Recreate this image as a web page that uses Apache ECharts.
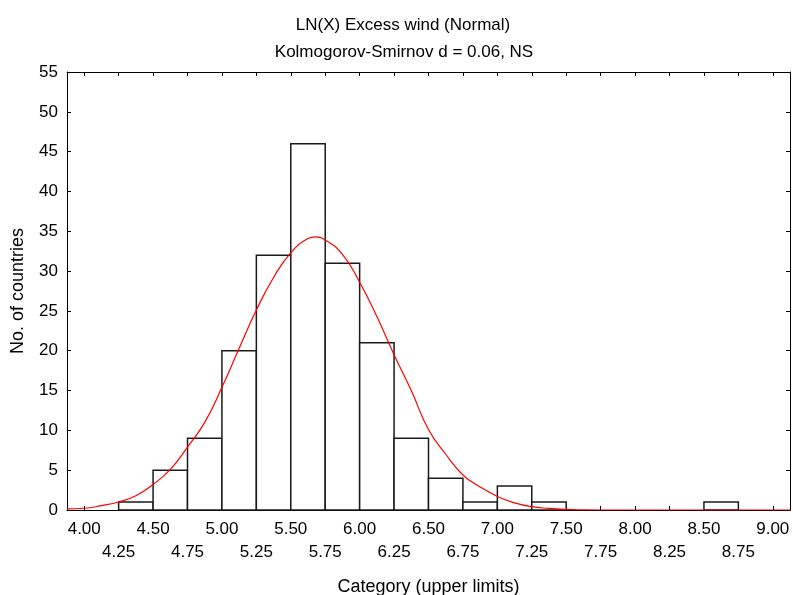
<!DOCTYPE html>
<html>
<head>
<meta charset="utf-8">
<script src="https://cdn.jsdelivr.net/npm/echarts@6/dist/echarts.min.js"></script>
<style>
html,body{margin:0;padding:0;background:#fff;}
#c{width:793px;height:595px;}
</style>
</head>
<body>
<div id="c"></div>
<script>
// ---- data ----
const titleLine1 = 'LN(X) Excess wind (Normal)';
const titleLine2 = 'Kolmogorov-Smirnov d = 0.06, NS';
const xAxisName = 'Category (upper limits)';
const yAxisName = 'No. of countries';

const binUpper  = [4.50, 4.75, 5.00, 5.25, 5.50, 5.75, 6.00, 6.25, 6.50, 6.75, 7.00, 7.25, 7.50, 7.75, 8.00, 8.25, 8.50, 8.75, 9.00];
const binCounts = [1, 5, 9, 20, 32, 46, 31, 21, 9, 4, 1, 3, 1, 0, 0, 0, 0, 1, 0];
const binWidth = 0.25;

const curveX = [3.875, 4.0, 4.125, 4.25, 4.375, 4.5, 4.625, 4.75, 4.875, 5.0, 5.125, 5.25, 5.375, 5.5, 5.625, 5.675, 5.75, 5.875, 6.0, 6.125, 6.25, 6.375, 6.5, 6.625, 6.75, 6.875, 7.0, 7.125, 7.25, 7.375, 7.5, 7.625, 7.75, 9.125];
const curveY = [0.15, 0.22, 0.55, 1.0, 1.8, 3.2, 5.1, 7.9, 11.0, 15.4, 20.3, 25.1, 29.2, 32.3, 34.1, 34.3, 33.9, 32.1, 28.6, 24.3, 19.5, 15.0, 10.1, 7.0, 4.4, 2.9, 1.7, 0.9, 0.42, 0.2, 0.07, 0.02, 0, 0];

const xTicks = [4.00, 4.25, 4.50, 4.75, 5.00, 5.25, 5.50, 5.75, 6.00, 6.25, 6.50, 6.75, 7.00, 7.25, 7.50, 7.75, 8.00, 8.25, 8.50, 8.75, 9.00];
const xTickLabels = ['4.00', '4.25', '4.50', '4.75', '5.00', '5.25', '5.50', '5.75', '6.00', '6.25', '6.50', '6.75', '7.00', '7.25', '7.50', '7.75', '8.00', '8.25', '8.50', '8.75', '9.00'];
const xMin = 3.875, xMax = 9.125;
const yMin = 0, yMax = 55, yStep = 5;

// ---- chart ----
const chart = echarts.init(document.getElementById('c'), null, {renderer: 'canvas', width: 793, height: 595});
const FONT = "'Liberation Sans', Arial, sans-serif";

const histData = binUpper.map((u, i) => [u - binWidth, u, binCounts[i]]);
const curveData = curveX.map((x, i) => [x, curveY[i]]);

function baseX(pos, showLabel) {
  return {
    type: 'value', position: pos, min: xMin, max: xMax,
    axisLine: {show: true, onZero: false, lineStyle: {color: '#000', width: 1}},
    axisTick: {show: true, inside: true, length: 4, customValues: xTicks, lineStyle: {color: '#000'}},
    splitLine: {show: false},
    axisLabel: showLabel ? {
      show: true, customValues: xTicks, margin: 8,
      color: '#000', fontFamily: FONT, fontSize: 17, lineHeight: 23,
      formatter: function (val) {
        const idx = xTicks.findIndex(t => Math.abs(t - val) < 1e-6);
        const lbl = idx >= 0 ? xTickLabels[idx] : '';
        return idx % 2 === 1 ? '\n' + lbl : lbl;
      }
    } : {show: false}
  };
}
function baseY(pos, showLabel) {
  return {
    type: 'value', position: pos, min: yMin, max: yMax, interval: yStep,
    axisLine: {show: true, onZero: false, lineStyle: {color: '#000', width: 1}},
    axisTick: {show: true, inside: true, length: 4, lineStyle: {color: '#000'}},
    splitLine: {show: false},
    axisLabel: showLabel ? {show: true, margin: 9, color: '#000', fontFamily: FONT, fontSize: 17} : {show: false}
  };
}

const xBottom = baseX('bottom', true);
xBottom.name = xAxisName;
xBottom.nameLocation = 'middle';
xBottom.nameGap = 68;
xBottom.nameTextStyle = {color: '#000', fontFamily: FONT, fontSize: 18};
const yLeft = baseY('left', true);
yLeft.name = yAxisName;
yLeft.nameLocation = 'middle';
yLeft.nameGap = 40;
yLeft.nameTextStyle = {color: '#000', fontFamily: FONT, fontSize: 18};

const option = {
  backgroundColor: '#fff',
  animation: false,
  graphic: [
    {type: 'text', x: 403, y: 25, silent: true,
     style: {text: titleLine1, fill: '#000', fontFamily: FONT, fontSize: 17, align: 'center', verticalAlign: 'middle'}},
    {type: 'text', x: 404, y: 52, silent: true,
     style: {text: titleLine2, fill: '#000', fontFamily: FONT, fontSize: 17, align: 'center', verticalAlign: 'middle'}}
  ],
  grid: {left: 67, width: 723, top: 72, height: 438, containLabel: false, outerBoundsMode: 'none'},
  xAxis: [xBottom, baseX('top', false)],
  yAxis: [yLeft, baseY('right', false)],
  series: [
    {
      type: 'custom', xAxisIndex: 0, yAxisIndex: 0,
      data: histData,
      encode: {x: [0, 1], y: 2},
      renderItem: function (params, api) {
        const lo = api.value(0), hi = api.value(1), v = api.value(2);
        if (!v) return null;
        const p0 = api.coord([lo, v]);
        const p1 = api.coord([hi, 0]);
        return {
          type: 'rect',
          shape: {x: p0[0], y: p0[1], width: p1[0] - p0[0], height: p1[1] - p0[1]},
          style: {fill: '#fff', stroke: '#1a1a1a', lineWidth: 1.5}
        };
      },
      z: 2
    },
    {
      type: 'line', xAxisIndex: 0, yAxisIndex: 0,
      data: curveData, smooth: 0.5, showSymbol: false, symbol: 'none',
      lineStyle: {color: '#ff0000', width: 1.2},
      z: 5
    }
  ]
};
chart.setOption(option);
</script>
</body>
</html>
